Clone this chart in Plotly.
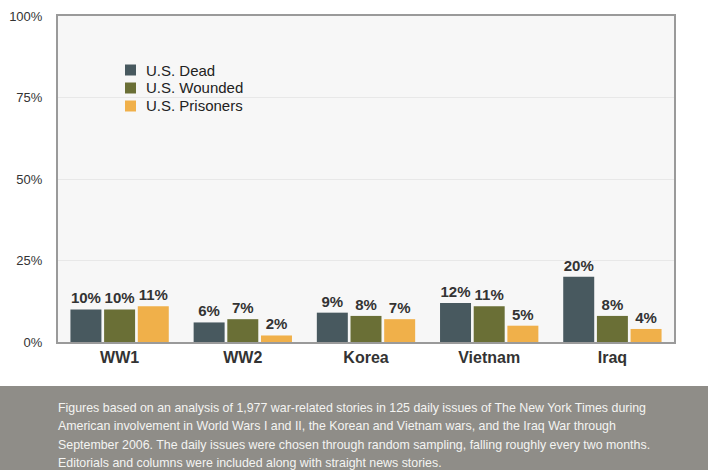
import plotly.graph_objects as go

categories = ["WW1", "WW2", "Korea", "Vietnam", "Iraq"]
dead = [10, 6, 9, 12, 20]
wounded = [10, 7, 8, 11, 8]
prisoners = [11, 2, 7, 5, 4]
series_names = ["U.S. Dead", "U.S. Wounded", "U.S. Prisoners"]
colors = ["#48595f", "#6a6f36", "#f0b04a"]
tick_vals = [0, 25, 50, 75, 100]
tick_text = ["0%", "25%", "50%", "75%", "100%"]
footnote_lines = [
    "Figures based on an analysis of 1,977 war-related stories in 125 daily issues of The New York Times during",
    "American involvement in World Wars I and II, the Korean and Vietnam wars, and the Iraq War through",
    "September 2006. The daily issues were chosen through random sampling, falling roughly every two months.",
    "Editorials and columns were included along with straight news stories.",
]

FONT = "Liberation Sans, Arial, Helvetica, sans-serif"

fig = go.Figure()
for name, vals, col in zip(series_names, [dead, wounded, prisoners], colors):
    fig.add_trace(go.Bar(
        x=categories, y=vals, name=name, marker=dict(color=col, line=dict(width=0)),
        text=[f"{v}%" for v in vals], textposition="outside",
        textfont=dict(family=FONT, size=15, color="#333333", weight="bold"),
        cliponaxis=False, showlegend=False,
    ))

W, H = 708, 470
L, R, T, B = 58, 34, 16, 128
pw, ph = W - L - R, H - T - B

def py(y):
    return (T + ph - y) / ph

def px(x):
    return (x - L) / pw

fig.update_layout(
    width=W, height=H,
    margin=dict(l=L, r=R, t=T, b=B, autoexpand=False),
    paper_bgcolor="white",
    plot_bgcolor="#f7f7f7",
    barmode="group", bargap=0.18, bargroupgap=0.08,
    font=dict(family=FONT, color="#333333"),
    showlegend=False,
    xaxis=dict(
        showline=True, linecolor="#9a9a9a", linewidth=2, mirror=True,
        tickfont=dict(size=16, color="#333333", family=FONT, weight="bold"),
        ticks="", showgrid=False, automargin=False,
    ),
    yaxis=dict(
        range=[0, 100], tickvals=tick_vals, ticktext=tick_text,
        showline=True, linecolor="#9a9a9a", linewidth=2, mirror=True,
        gridcolor="#e8e8e8", gridwidth=1, zeroline=False,
        tickfont=dict(size=13, color="#333333"), ticks="", ticklabelstandoff=11,
        automargin=False,
    ),
)

# custom legend (squares + labels)
for i, (name, col) in enumerate(zip(series_names, colors)):
    yc = 70 + 18 * i
    fig.add_shape(type="rect", xref="paper", yref="paper",
                  x0=px(125), x1=px(136), y0=py(yc + 5.5), y1=py(yc - 5.5),
                  fillcolor=col, line=dict(width=0))
    fig.add_annotation(xref="paper", yref="paper", x=px(144), y=py(yc),
                       xanchor="left", yanchor="middle", showarrow=False, text=name,
                       font=dict(family=FONT, size=15, color="#222222"))

# footnote band
fig.add_shape(type="rect", xref="paper", yref="paper",
              x0=px(0), x1=px(W), y0=py(H), y1=py(386),
              fillcolor="#8f8d88", line=dict(width=0), layer="below")
for i, line in enumerate(footnote_lines):
    yc = 408 + 18.3 * i
    fig.add_annotation(
        xref="paper", yref="paper", x=px(56), y=py(yc),
        xanchor="left", yanchor="middle", showarrow=False, text=line,
        font=dict(family=FONT, size=12.4, color="#f4f4f2"),
    )

fig.write_html("out.html", config={"displayModeBar": False},
               post_script="document.body.style.margin='0';")
